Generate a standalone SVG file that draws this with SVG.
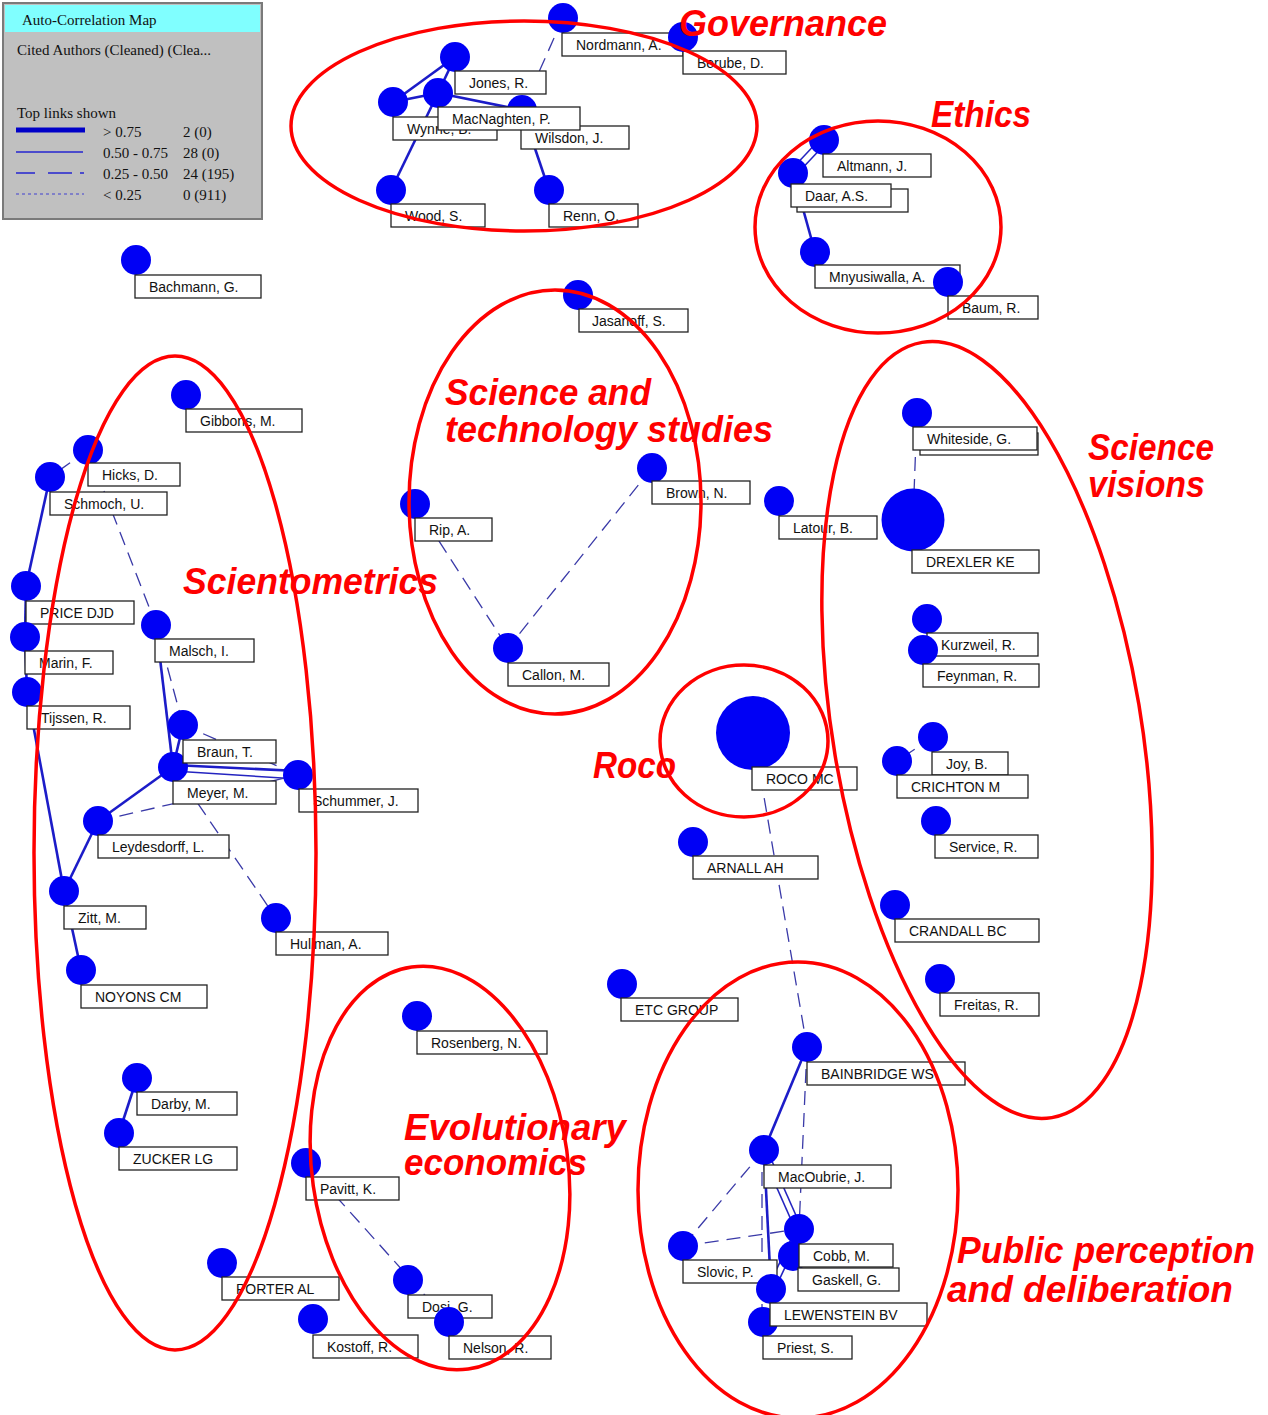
<svg xmlns="http://www.w3.org/2000/svg" width="1268" height="1415" viewBox="0 0 1268 1415">
<style>
  .node circle { fill: #0000f5; }
  .node rect { fill: #ffffff; stroke: #222222; stroke-width: 1.3; }
  .node text { font-family: "Liberation Sans", Arial, sans-serif; font-size: 14px; fill: #111111; }
  .solid { stroke: #1c1cc8; stroke-width: 2.6; fill: none; }
  .thin { stroke: #2424c0; stroke-width: 1.6; fill: none; }
  .dash { stroke: #3a3aa8; stroke-width: 1.3; fill: none; stroke-dasharray: 14 8; }
  .ring { fill: none; stroke: #ff0000; stroke-width: 3.5; }
  .tag { font-family: "Liberation Sans", Arial, sans-serif; font-weight: bold; font-style: italic; font-size: 37px; fill: #ff0000; }
  .leg { font-family: "Liberation Serif", "Times New Roman", serif; font-size: 15px; fill: #111111; }
</style>

<rect width="1268" height="1415" fill="#ffffff"/>

<!-- legend panel -->
<g id="legend">
  <rect x="3" y="3" width="259" height="216" fill="#c0c0c0" stroke="#7a7a7a" stroke-width="2"/>
  <rect x="5" y="5" width="255" height="27" fill="#80ffff"/>
  <text class="leg" x="22" y="25" font-size="16">Auto-Correlation Map</text>
  <text class="leg" x="17" y="55">Cited Authors (Cleaned) (Clea...</text>
  <text class="leg" x="17" y="118">Top links shown</text>
  <line x1="16" y1="130" x2="85" y2="130" stroke="#0000c8" stroke-width="5"/>
  <line x1="16" y1="152" x2="83" y2="152" stroke="#2424d0" stroke-width="1.5"/>
  <line x1="16" y1="173" x2="84" y2="173" stroke="#2424d0" stroke-width="1.5" stroke-dasharray="19 13 24 8"/>
  <line x1="16" y1="194" x2="84" y2="194" stroke="#4040d0" stroke-width="1.2" stroke-dasharray="3 3"/>
  <text class="leg" x="103" y="137">&gt; 0.75</text>
  <text class="leg" x="103" y="158">0.50 - 0.75</text>
  <text class="leg" x="103" y="179">0.25 - 0.50</text>
  <text class="leg" x="103" y="200">&lt; 0.25</text>
  <text class="leg" x="183" y="137">2 (0)</text>
  <text class="leg" x="183" y="158">28 (0)</text>
  <text class="leg" x="183" y="179">24 (195)</text>
  <text class="leg" x="183" y="200">0 (911)</text>
</g>

<!-- links between cited authors -->
<g id="connectors">
  <!-- governance -->
  <line class="dash" x1="563" y1="18" x2="522" y2="110"/>
  <line class="solid" x1="455" y1="57" x2="393" y2="102"/>
  <line class="solid" x1="455" y1="57" x2="438" y2="93"/>
  <line class="solid" x1="393" y1="102" x2="438" y2="93"/>
  <line class="solid" x1="438" y1="93" x2="522" y2="110"/>
  <line class="solid" x1="438" y1="93" x2="391" y2="190"/>
  <line class="solid" x1="522" y1="110" x2="549" y2="190"/>
  <!-- ethics -->
  <line class="thin" x1="827" y1="142" x2="796" y2="175"/>
  <line class="thin" x1="821" y1="138" x2="790" y2="171"/>
  <line class="solid" x1="793" y1="173" x2="815" y2="252" stroke-width="3.2"/>
  <!-- scientometrics -->
  <line class="dash" x1="88" y1="450" x2="50" y2="477"/>
  <line class="dash" x1="88" y1="450" x2="156" y2="625"/>
  <line class="solid" x1="50" y1="477" x2="26" y2="586"/>
  <line class="solid" x1="26" y1="586" x2="25" y2="637" stroke-width="3.5"/>
  <line class="solid" x1="25" y1="637" x2="27" y2="692"/>
  <line class="solid" x1="27" y1="692" x2="64" y2="891"/>
  <line class="solid" x1="156" y1="625" x2="173" y2="767"/>
  <line class="dash" x1="156" y1="625" x2="183" y2="725"/>
  <line class="solid" x1="183" y1="725" x2="173" y2="767"/>
  <line class="dash" x1="183" y1="725" x2="298" y2="775"/>
  <line class="solid" x1="173" y1="765" x2="298" y2="771"/>
  <line class="thin" x1="173" y1="771" x2="298" y2="779"/>
  <line class="solid" x1="173" y1="767" x2="98" y2="821"/>
  <line class="dash" x1="98" y1="821" x2="298" y2="775"/>
  <line class="dash" x1="173" y1="767" x2="276" y2="918"/>
  <line class="solid" x1="98" y1="821" x2="64" y2="891"/>
  <line class="solid" x1="64" y1="891" x2="81" y2="970"/>
  <line class="solid" x1="137" y1="1078" x2="119" y2="1133"/>
  <!-- science and technology studies -->
  <line class="dash" x1="415" y1="504" x2="508" y2="648"/>
  <line class="dash" x1="652" y1="468" x2="508" y2="648"/>
  <!-- science visions -->
  <line class="dash" x1="917" y1="413" x2="913" y2="520"/>
  <line class="dash" x1="933" y1="737" x2="897" y2="761" stroke-dasharray="6 4"/>
  <!-- roco to public perception -->
  <line class="dash" x1="753" y1="733" x2="807" y2="1047"/>
  <!-- public perception -->
  <line class="solid" x1="807" y1="1047" x2="764" y2="1150"/>
  <line class="dash" x1="807" y1="1047" x2="799" y2="1229"/>
  <line class="dash" x1="764" y1="1150" x2="683" y2="1246"/>
  <line class="dash" x1="683" y1="1246" x2="799" y2="1229"/>
  <line class="thin" x1="767" y1="1150" x2="802" y2="1229"/>
  <line class="thin" x1="761" y1="1152" x2="796" y2="1231"/>
  <line class="solid" x1="764" y1="1150" x2="771" y2="1289"/>
  <line class="dash" x1="762" y1="1150" x2="762" y2="1322"/>
  <line class="thin" x1="802" y1="1231" x2="774" y2="1291"/>
  <line class="thin" x1="796" y1="1229" x2="768" y2="1287"/>
  <!-- evolutionary economics -->
  <line class="dash" x1="306" y1="1163" x2="449" y2="1322"/>
</g>

<!-- governance -->
<g class="node" id="n-nordmann"><circle cx="563" cy="18" r="15"/><rect x="562" y="33" width="121" height="23"/><text x="576" y="50">Nordmann, A.</text></g>
<g class="node" id="n-berube"><rect x="683" y="51" width="103" height="23"/><text x="697" y="68">Berube, D.</text><circle cx="683" cy="37" r="15"/></g>
<g class="node" id="n-jones"><circle cx="455" cy="57" r="15"/><rect x="455" y="71" width="91" height="23"/><text x="469" y="88">Jones, R.</text></g>
<g class="node" id="n-wynne"><circle cx="393" cy="102" r="15"/><rect x="393" y="117" width="104" height="23"/><text x="407" y="134">Wynne, B.</text></g>
<g class="node" id="n-wilsdon"><circle cx="522" cy="110" r="15"/><rect x="521" y="126" width="108" height="23"/><text x="535" y="143">Wilsdon, J.</text></g>
<g class="node" id="n-macnaghten"><circle cx="438" cy="93" r="15"/><rect x="438" y="107" width="142" height="23"/><text x="452" y="124">MacNaghten, P.</text></g>
<g class="node" id="n-wood"><circle cx="391" cy="190" r="15"/><rect x="391" y="204" width="94" height="23"/><text x="405" y="221">Wood, S.</text></g>
<g class="node" id="n-renn"><circle cx="549" cy="190" r="15"/><rect x="549" y="204" width="89" height="23"/><text x="563" y="221">Renn, O.</text></g>

<!-- ethics -->
<g class="node" id="n-ethics-under"><rect x="797" y="189" width="111" height="23"/></g>
<g class="node" id="n-altmann"><circle cx="824" cy="140" r="15"/><rect x="823" y="154" width="108" height="23"/><text x="837" y="171">Altmann, J.</text></g>
<g class="node" id="n-daar"><circle cx="793" cy="173" r="15"/><rect x="791" y="184" width="100" height="23"/><text x="805" y="201">Daar, A.S.</text></g>
<g class="node" id="n-mnyusiwalla"><circle cx="815" cy="252" r="15"/><rect x="815" y="265" width="145" height="23"/><text x="829" y="282">Mnyusiwalla, A.</text></g>
<g class="node" id="n-baum"><circle cx="948" cy="282" r="15"/><rect x="948" y="296" width="90" height="23"/><text x="962" y="313">Baum, R.</text></g>

<!-- loose nodes near the top -->
<g class="node" id="n-bachmann"><circle cx="136" cy="260" r="15"/><rect x="135" y="275" width="126" height="23"/><text x="149" y="292">Bachmann, G.</text></g>
<g class="node" id="n-jasanoff"><circle cx="578" cy="295" r="15"/><rect x="579" y="309" width="109" height="23"/><text x="592" y="326">Jasanoff, S.</text></g>

<!-- scientometrics -->
<g class="node" id="n-gibbons"><circle cx="186" cy="395" r="15"/><rect x="186" y="409" width="116" height="23"/><text x="200" y="426">Gibbons, M.</text></g>
<g class="node" id="n-hicks"><circle cx="88" cy="450" r="15"/><rect x="88" y="463" width="92" height="23"/><text x="102" y="480">Hicks, D.</text></g>
<g class="node" id="n-schmoch"><circle cx="50" cy="477" r="15"/><rect x="50" y="492" width="117" height="23"/><text x="64" y="509">Schmoch, U.</text></g>
<g class="node" id="n-price"><circle cx="26" cy="586" r="15"/><rect x="26" y="601" width="108" height="23"/><text x="40" y="618">PRICE DJD</text></g>
<g class="node" id="n-marin"><circle cx="25" cy="637" r="15"/><rect x="25" y="651" width="88" height="23"/><text x="39" y="668">Marin, F.</text></g>
<g class="node" id="n-tijssen"><circle cx="27" cy="692" r="15"/><rect x="27" y="706" width="103" height="23"/><text x="41" y="723">Tijssen, R.</text></g>
<g class="node" id="n-malsch"><circle cx="156" cy="625" r="15"/><rect x="155" y="639" width="99" height="23"/><text x="169" y="656">Malsch, I.</text></g>
<g class="node" id="n-meyer"><circle cx="173" cy="767" r="15"/><rect x="173" y="781" width="103" height="23"/><text x="187" y="798">Meyer, M.</text></g>
<g class="node" id="n-braun"><circle cx="183" cy="725" r="15"/><rect x="183" y="740" width="93" height="23"/><text x="197" y="757">Braun, T.</text></g>
<g class="node" id="n-schummer"><circle cx="298" cy="775" r="15"/><rect x="299" y="789" width="119" height="23"/><text x="313" y="806">Schummer, J.</text></g>
<g class="node" id="n-leydesdorff"><circle cx="98" cy="821" r="15"/><rect x="98" y="835" width="131" height="23"/><text x="112" y="852">Leydesdorff, L.</text></g>
<g class="node" id="n-zitt"><circle cx="64" cy="891" r="15"/><rect x="64" y="906" width="82" height="23"/><text x="78" y="923">Zitt, M.</text></g>
<g class="node" id="n-hullman"><circle cx="276" cy="918" r="15"/><rect x="276" y="932" width="112" height="23"/><text x="290" y="949">Hullman, A.</text></g>
<g class="node" id="n-noyons"><circle cx="81" cy="970" r="15"/><rect x="81" y="985" width="126" height="23"/><text x="95" y="1002">NOYONS CM</text></g>
<g class="node" id="n-darby"><circle cx="137" cy="1078" r="15"/><rect x="137" y="1092" width="100" height="23"/><text x="151" y="1109">Darby, M.</text></g>
<g class="node" id="n-zucker"><circle cx="119" cy="1133" r="15"/><rect x="119" y="1147" width="118" height="23"/><text x="133" y="1164">ZUCKER LG</text></g>
<g class="node" id="n-porter"><circle cx="222" cy="1263" r="15"/><rect x="222" y="1277" width="117" height="23"/><text x="236" y="1294">PORTER AL</text></g>

<!-- science and technology studies -->
<g class="node" id="n-rip"><circle cx="415" cy="504" r="15"/><rect x="415" y="518" width="77" height="23"/><text x="429" y="535">Rip, A.</text></g>
<g class="node" id="n-brown"><circle cx="652" cy="468" r="15"/><rect x="652" y="481" width="98" height="23"/><text x="666" y="498">Brown, N.</text></g>
<g class="node" id="n-callon"><circle cx="508" cy="648" r="15"/><rect x="508" y="663" width="101" height="23"/><text x="522" y="680">Callon, M.</text></g>
<g class="node" id="n-latour"><circle cx="779" cy="501" r="15"/><rect x="779" y="516" width="98" height="23"/><text x="793" y="533">Latour, B.</text></g>

<!-- science visions -->
<g class="node" id="n-visions-under"><rect x="920" y="433" width="118" height="22"/></g>
<g class="node" id="n-whiteside"><circle cx="917" cy="413" r="15"/><rect x="913" y="427" width="124" height="23"/><text x="927" y="444">Whiteside, G.</text></g>
<g class="node" id="n-drexler"><circle cx="913" cy="520" r="31.5"/><rect x="912" y="550" width="127" height="23"/><text x="926" y="567">DREXLER KE</text></g>
<g class="node" id="n-kurzweil"><circle cx="927" cy="619" r="15"/><rect x="927" y="633" width="111" height="23"/><text x="941" y="650">Kurzweil, R.</text></g>
<g class="node" id="n-feynman"><circle cx="923" cy="650" r="15"/><rect x="923" y="664" width="116" height="23"/><text x="937" y="681">Feynman, R.</text></g>
<g class="node" id="n-joy"><circle cx="933" cy="737" r="15"/><rect x="932" y="752" width="76" height="23"/><text x="946" y="769">Joy, B.</text></g>
<g class="node" id="n-crichton"><circle cx="897" cy="761" r="15"/><rect x="897" y="775" width="131" height="23"/><text x="911" y="792">CRICHTON M</text></g>
<g class="node" id="n-service"><circle cx="936" cy="821" r="15"/><rect x="935" y="835" width="103" height="23"/><text x="949" y="852">Service, R.</text></g>
<g class="node" id="n-crandall"><circle cx="895" cy="905" r="15"/><rect x="895" y="919" width="144" height="23"/><text x="909" y="936">CRANDALL BC</text></g>
<g class="node" id="n-freitas"><circle cx="940" cy="979" r="15"/><rect x="940" y="993" width="99" height="23"/><text x="954" y="1010">Freitas, R.</text></g>

<!-- roco and neighbours -->
<g class="node" id="n-roco"><circle cx="753" cy="733" r="37"/><rect x="752" y="767" width="105" height="23"/><text x="766" y="784">ROCO MC</text></g>
<g class="node" id="n-arnall"><circle cx="693" cy="842" r="15"/><rect x="693" y="856" width="125" height="23"/><text x="707" y="873">ARNALL AH</text></g>
<g class="node" id="n-etc"><circle cx="622" cy="984" r="15"/><rect x="621" y="998" width="117" height="23"/><text x="635" y="1015">ETC GROUP</text></g>

<!-- public perception and deliberation -->
<g class="node" id="n-bainbridge"><circle cx="807" cy="1047" r="15"/><rect x="807" y="1062" width="158" height="23"/><text x="821" y="1079">BAINBRIDGE WS</text></g>
<g class="node" id="n-macoubrie"><circle cx="764" cy="1150" r="15"/><rect x="764" y="1165" width="127" height="23"/><text x="778" y="1182">MacOubrie, J.</text></g>
<g class="node" id="n-slovic"><circle cx="683" cy="1246" r="15"/><rect x="683" y="1260" width="94" height="23"/><text x="697" y="1277">Slovic, P.</text></g>
<g class="node" id="n-gaskell"><circle cx="793" cy="1256" r="15"/><rect x="798" y="1268" width="101" height="23"/><text x="812" y="1285">Gaskell, G.</text></g>
<g class="node" id="n-cobb"><circle cx="799" cy="1229" r="15"/><rect x="799" y="1244" width="94" height="23"/><text x="813" y="1261">Cobb, M.</text></g>
<g class="node" id="n-priest"><circle cx="763" cy="1322" r="15"/><rect x="763" y="1336" width="89" height="23"/><text x="777" y="1353">Priest, S.</text></g>
<g class="node" id="n-lewenstein"><circle cx="771" cy="1289" r="15"/><rect x="770" y="1303" width="157" height="23"/><text x="784" y="1320">LEWENSTEIN BV</text></g>

<!-- evolutionary economics -->
<g class="node" id="n-rosenberg"><circle cx="417" cy="1016" r="15"/><rect x="417" y="1031" width="130" height="23"/><text x="431" y="1048">Rosenberg, N.</text></g>
<g class="node" id="n-pavitt"><circle cx="306" cy="1163" r="15"/><rect x="306" y="1177" width="93" height="23"/><text x="320" y="1194">Pavitt, K.</text></g>
<g class="node" id="n-dosi"><circle cx="408" cy="1280" r="15"/><rect x="408" y="1295" width="84" height="23"/><text x="422" y="1312">Dosi, G.</text></g>
<g class="node" id="n-nelson"><circle cx="449" cy="1322" r="15"/><rect x="449" y="1336" width="102" height="23"/><text x="463" y="1353">Nelson, R.</text></g>
<g class="node" id="n-kostoff"><circle cx="313" cy="1319" r="15"/><rect x="313" y="1335" width="105" height="23"/><text x="327" y="1352">Kostoff, R.</text></g>

<!-- hand-drawn cluster outlines -->
<g id="clusters">
  <ellipse class="ring" cx="524" cy="126" rx="233" ry="105"/>
  <ellipse class="ring" cx="878" cy="227" rx="123" ry="106"/>
  <ellipse class="ring" cx="555" cy="502" rx="146" ry="212"/>
  <ellipse class="ring" cx="175" cy="853" rx="141" ry="497"/>
  <ellipse class="ring" cx="987" cy="730" rx="154" ry="393" transform="rotate(-9.5 987 730)"/>
  <ellipse class="ring" cx="744" cy="741" rx="84" ry="76"/>
  <ellipse class="ring" cx="440" cy="1168" rx="128" ry="203" transform="rotate(-8 440 1168)"/>
  <ellipse class="ring" cx="798" cy="1190" rx="160" ry="228"/>
</g>

<!-- cluster names -->
<g id="cluster-names">
  <text class="tag" x="679" y="36" textLength="208" lengthAdjust="spacingAndGlyphs">Governance</text>
  <text class="tag" x="931" y="127" textLength="100" lengthAdjust="spacingAndGlyphs">Ethics</text>
  <text class="tag" x="445" y="405" textLength="206" lengthAdjust="spacingAndGlyphs">Science and</text>
  <text class="tag" x="445" y="442" textLength="328" lengthAdjust="spacingAndGlyphs">technology studies</text>
  <text class="tag" x="183" y="594" textLength="255" lengthAdjust="spacingAndGlyphs">Scientometrics</text>
  <text class="tag" x="1088" y="460" textLength="126" lengthAdjust="spacingAndGlyphs">Science</text>
  <text class="tag" x="1088" y="497" textLength="117" lengthAdjust="spacingAndGlyphs">visions</text>
  <text class="tag" x="593" y="778" textLength="83" lengthAdjust="spacingAndGlyphs">Roco</text>
  <text class="tag" x="404" y="1140" textLength="222" lengthAdjust="spacingAndGlyphs">Evolutionary</text>
  <text class="tag" x="404" y="1175" textLength="183" lengthAdjust="spacingAndGlyphs">economics</text>
  <text class="tag" x="957" y="1263" textLength="298" lengthAdjust="spacingAndGlyphs">Public perception</text>
  <text class="tag" x="947" y="1302" textLength="286" lengthAdjust="spacingAndGlyphs">and deliberation</text>
</g>
</svg>
